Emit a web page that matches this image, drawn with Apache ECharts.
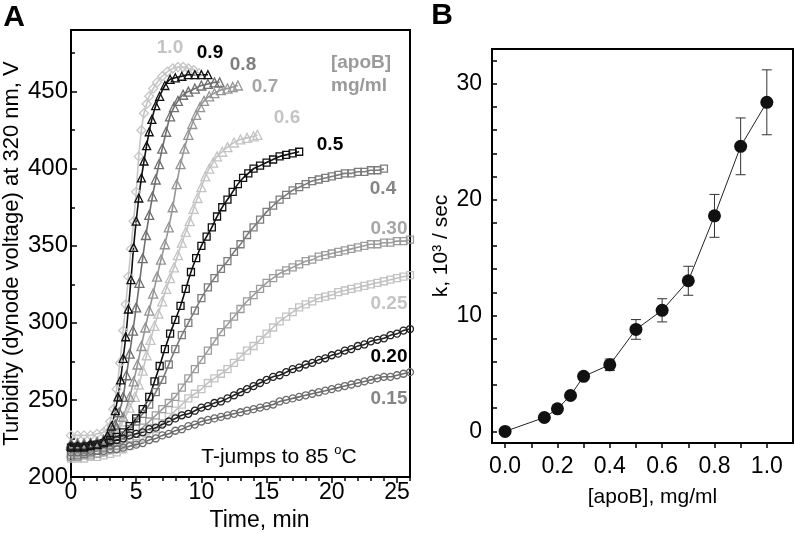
<!DOCTYPE html>
<html>
<head>
<meta charset="utf-8">
<script src="https://cdn.jsdelivr.net/npm/echarts@6/dist/echarts.min.js"></script>
<style>
  html, body { margin: 0; padding: 0; background: #fff; }
  #chart { width: 797px; height: 533px; }
</style>
</head>
<body>
<div id="chart"></div>
<script>
// ---- panel A: turbidity traces, time (min) / dynode voltage (V) ----
const t10 = [0,0.5,1,1.5,2,2.5,2.75,3,3.25,3.5,3.75,4,4.2,4.4,4.6,4.8,5,5.2,5.4,5.6,5.8,6,6.3,6.6,7,7.4,7.8,8.2,8.6,9,9.4,9.8]
const v10 = [227,227,227,227,228,229,231,236,244,257,274,295,312,330,348,366,385,408,425,436,442,447,452,456,460,463,465,466,466,465,464,462]
const t09 = [0,0.5,1,1.5,2,2.5,2.8,3.1,3.4,3.6,3.8,4.0,4.2,4.4,4.6,4.8,5.0,5.2,5.4,5.6,5.8,6.0,6.2,6.5,6.8,7.2,7.6,8.0,8.5,9.0,9.5,10.0,10.5]
const v09 = [220,220,220,221,221,223,227,233,243,252,263,277,291,309,328,349,366,381,394,405,415,424,432,441,447,454,458,459,460,461,461,461,461]
const t08 = [0,0.5,1,1.5,2,2.5,2.8,3.1,3.4,3.7,4.0,4.25,4.5,4.75,5.0,5.25,5.5,5.75,6.0,6.25,6.5,6.75,7.0,7.3,7.6,7.9,8.2,8.6,9.0,9.5,10.0,10.5,11.0,11.4]
const v08 = [221,221,221,222,222,224,226,229,234,242,252,266,280,295,310,326,342,357,370,382,393,403,413,424,434,440,444,448,450,452,454,455,456,456]
const t07 = [0,0.5,1,1.5,2,2.5,3,3.5,4,4.5,4.8,5.1,5.4,5.7,6.0,6.3,6.6,6.9,7.2,7.5,7.8,8.1,8.4,8.7,9.0,9.3,9.6,9.9,10.2,10.6,11.0,11.5,12.0,12.4,12.8]
const v07 = [222,222,222,222,223,224,226,231,239,252,262,273,285,297,308,319,330,341,351,362,375,390,403,413,422,429,435,440,444,447,449,451,452,453,454]
const t06 = [0,0.5,1,1.5,2,2.5,3,3.5,4,4.5,4.9,5.2,5.5,5.8,6.1,6.4,6.7,7.0,7.3,7.6,7.9,8.2,8.5,8.8,9.1,9.4,9.7,10.0,10.3,10.6,10.9,11.2,11.6,12.0,12.5,13.0,13.5,14.0,14.3]
const v06 = [216,216,217,217,218,220,223,228,236,245,252,260,269,279,289,298,306,314,322,329,336,344,352,359,366,374,381,388,395,400,404,408,411,414,417,419,420,421,422]
const t05 = [0,0.5,1,1.5,2,2.5,3,3.5,4,4.5,5,5.5,6,6.4,6.8,7.2,7.6,8.0,8.4,8.8,9.2,9.6,10.0,10.4,10.8,11.2,11.6,12.0,12.4,12.8,13.2,13.6,14.0,14.5,15.0,15.5,16.0,16.5,17.0,17.5]
const v05 = [219,219,219,220,221,222,224,226,229,233,238,244,252,262,272,283,293,302,311,322,333,342,350,356,362,369,375,380,385,390,394,397,400,402,404,406,408,409,410,411]
// slow traces share one sampling grid
const tSlow = [0,0.5,1,1.5,2,2.5,3,3.5,4,4.5,5,5.5,6,6.5,7,7.5,8,8.5,9,9.5,10,10.5,11,11.5,12,12.5,13,13.5,14,14.5,15,15.5,16,16.5,17,17.5,18,18.5,19,19.5,20,20.5,21,21.5,22,22.5,23,23.5,24,24.5,25,25.5,26]
const v04 = [214,214,215,216,217,219,221,224,227,231,236,241,247,255,263,273,283,292,300,308,316,323,329,335,340,346,351,357,362,367,372,376,380,383,386,388,390,392,393,394,395,396,397,397,398,398,399,399,400]
const v030 = [213,213,214,214,215,216,218,220,222,225,228,232,236,240,244,248,252,258,264,270,276,282,288,294,299,304,309,314,318,322,326,329,332,334,336,338,340,341,343,344,345,346,347,348,349,350,351,351,352,352,353,353,354]
const v025 = [212,212,212,213,213,214,215,216,218,220,222,225,228,231,235,239,243,247,251,254,257,261,264,267,270,274,278,282,285,289,293,297,301,304,307,310,312,314,316,317,318,320,321,322,323,324,325,326,327,328,329,330,331]
const v020 = [220,220,220,221,221,222,223,224,225,227,228,229,231,232,234,236,238,240,241,243,245,246,248,249,251,253,255,257,259,261,263,265,266,268,270,271,273,274,276,277,279,280,282,283,285,286,288,289,290,292,293,295,296]
const v015 = [216,216,216,217,217,217,218,218,219,220,221,222,224,225,227,228,230,231,233,234,236,237,238,239,240,241,242,243,244,245,246,247,249,250,251,252,253,254,255,256,257,258,259,260,261,262,263,264,265,265,266,267,268]

const tickAx = [0, 5, 10, 15, 20, 25]
const minorAx = [0,1,2,3,4,5,6,7,8,9,10,11,12,13,14,15,16,17,18,19,20,21,22,23,24,25,26]
const tickAy = [200, 250, 300, 350, 400, 450]
const minorAy = [225, 275, 325, 375, 425, 475]

// ---- panel B: rate constant vs apoB concentration ----
const apoB = [0, 0.15, 0.2, 0.25, 0.3, 0.4, 0.5, 0.6, 0.7, 0.8, 0.9, 1.0]
const kRate = [0, 1.2, 1.95, 3.1, 4.75, 5.75, 8.8, 10.45, 13.0, 18.6, 24.6, 28.4]
const kErr = [0, 0, 0, 0, 0, 0.5, 0.85, 1.0, 1.25, 1.85, 2.45, 2.8]
const tickBx = [0, 0.1, 0.2, 0.3, 0.4, 0.5, 0.6, 0.7, 0.8, 0.9, 1.0]
const labelBx = [0, 0.2, 0.4, 0.6, 0.8, 1.0]
const tickBy = [0,2,4,6,8,10,12,14,16,18,20,22,24,26,28,30,32]
const labelBy = [0, 10, 20, 30]

const FONT = 'Liberation Sans, Arial, sans-serif'

const curves = [
  { t: t10, v: v10, color: '#c6c6c6', symbol: 'diamond', size: 9 },
  { t: t06, v: v06, color: '#c4c4c4', symbol: 'triangle', size: 9 },
  { t: tSlow, v: v025, color: '#c2c2c2', symbol: 'rect', size: 7 },
  { t: t07, v: v07, color: '#959595', symbol: 'triangle', size: 9 },
  { t: tSlow, v: v030, color: '#9c9c9c', symbol: 'rect', size: 7 },
  { t: t08, v: v08, color: '#6f6f6f', symbol: 'triangle', size: 9 },
  { t: tSlow.slice(0, v04.length), v: v04, color: '#7c7c7c', symbol: 'rect', size: 7 },
  { t: tSlow, v: v015, color: '#6c6c6c', symbol: 'circle', size: 7 },
  { t: t09, v: v09, color: '#111', symbol: 'triangle', size: 8 },
  { t: t05, v: v05, color: '#111', symbol: 'rect', size: 7 },
  { t: tSlow, v: v020, color: '#222', symbol: 'circle', size: 7 }
]

const curveLabels = [
  ['1.0', 170, 48, '#c4c4c4'], ['0.9', 210, 53, '#000'], ['0.8', 243, 65, '#808080'],
  ['0.7', 265, 87, '#a6a6a6'], ['0.6', 287, 118, '#c4c4c4'], ['0.5', 330, 145, '#000'],
  ['0.4', 383, 189, '#858585'], ['0.30', 389, 229, '#a6a6a6'], ['0.25', 389, 304, '#c4c4c4'],
  ['0.20', 389, 357, '#000'], ['0.15', 389, 399, '#858585'],
  ['[apoB]', 361, 63, '#9a9a9a'], ['mg/ml', 359, 86, '#9a9a9a']
]

const chart = echarts.init(document.getElementById('chart'))

const tickStyle = { color: '#000', width: 1.5 }
const axisLineStyle = { color: '#000', width: 2 }

const option = {
  animation: false,
  textStyle: { fontFamily: FONT },
  grid: [
    { left: 71, top: 30, right: 387, bottom: 56, show: true, borderColor: '#000', borderWidth: 2, outerBoundsMode: 'none' },
    { left: 492, top: 49, right: 4, bottom: 90, show: true, borderColor: '#000', borderWidth: 2, outerBoundsMode: 'none' }
  ],
  xAxis: [
    {
      gridIndex: 0, type: 'value', position: 'bottom', min: 0, max: 26,
      splitLine: { show: false },
      axisLine: { onZero: false, lineStyle: axisLineStyle },
      axisTick: { customValues: tickAx, length: 6, lineStyle: tickStyle },
      axisLabel: { customValues: tickAx, fontSize: 23, color: '#000', margin: 4, fontFamily: FONT },
      name: 'Time, min', nameLocation: 'middle', nameGap: 27,
      nameTextStyle: { fontSize: 23, color: '#000', fontFamily: FONT, padding: [0, 0, 0, 38] }
    },
    {
      gridIndex: 0, type: 'value', position: 'bottom', min: 0, max: 26,
      splitLine: { show: false }, axisLine: { show: false, onZero: false },
      axisTick: { customValues: minorAx, length: 4, lineStyle: tickStyle },
      axisLabel: { show: false }
    },
    {
      gridIndex: 1, type: 'value', position: 'bottom', min: -0.05, max: 1.1,
      splitLine: { show: false },
      axisLine: { onZero: false, lineStyle: axisLineStyle },
      axisTick: { customValues: tickBx, length: 5, lineStyle: tickStyle },
      axisLabel: { customValues: labelBx, fontSize: 23, color: '#000', margin: 12, fontFamily: FONT,
        formatter: v => v.toFixed(1) },
      name: '[apoB], mg/ml', nameLocation: 'middle', nameGap: 44,
      nameTextStyle: { fontSize: 21, color: '#000', fontFamily: FONT, padding: [0, 0, 0, 20] }
    }
  ],
  yAxis: [
    {
      gridIndex: 0, type: 'value', position: 'left', min: 200, max: 490,
      splitLine: { show: false },
      axisLine: { onZero: false, lineStyle: axisLineStyle },
      axisTick: { customValues: tickAy, inside: true, length: 6, lineStyle: tickStyle },
      axisLabel: { customValues: tickAy, fontSize: 24, color: '#000', margin: 3, fontFamily: FONT },
      name: 'Turbidity (dynode voltage) at 320 nm, V', nameLocation: 'middle', nameGap: 48,
      nameTextStyle: { fontSize: 22, color: '#000', fontFamily: FONT }
    },
    {
      gridIndex: 0, type: 'value', position: 'left', min: 200, max: 490,
      splitLine: { show: false }, axisLine: { show: false, onZero: false },
      axisTick: { customValues: minorAy, inside: true, length: 4, lineStyle: tickStyle },
      axisLabel: { show: false }
    },
    {
      gridIndex: 1, type: 'value', position: 'left', min: -1, max: 33,
      splitLine: { show: false },
      axisLine: { onZero: false, lineStyle: axisLineStyle },
      axisTick: { customValues: tickBy, inside: true, length: 5, lineStyle: tickStyle },
      axisLabel: { customValues: labelBy, fontSize: 23, color: '#000', margin: 10, fontFamily: FONT },
      name: 'k, 10³ / sec', nameLocation: 'middle', nameGap: 40,
      nameTextStyle: { fontSize: 21, color: '#000', fontFamily: FONT }
    }
  ],
  series: curves.map(c => ({
    type: 'line', xAxisIndex: 0, yAxisIndex: 0,
    data: c.t.map((x, i) => [x, c.v[i]]),
    smooth: 0.4, showSymbol: true, showAllSymbol: true,
    symbol: c.symbol, symbolSize: c.size,
    itemStyle: { color: 'rgba(255,255,255,0)', borderColor: c.color, borderWidth: 1.3 },
    lineStyle: { color: c.color, width: 1.6 },
    silent: true
  })).concat([
    {
      type: 'custom', xAxisIndex: 2, yAxisIndex: 2, silent: true, z: 3,
      data: apoB.map((c, i) => [c, kRate[i] - kErr[i], kRate[i] + kErr[i]]).filter(d => d[2] > d[1]),
      encode: { x: 0, y: [1, 2] },
      renderItem: (params, api) => {
        const top = api.coord([api.value(0), api.value(2)])
        const bot = api.coord([api.value(0), api.value(1)])
        const w = 5
        const st = { stroke: '#333', lineWidth: 1 }
        return {
          type: 'group',
          children: [
            { type: 'line', shape: { x1: top[0], y1: top[1], x2: bot[0], y2: bot[1] }, style: st },
            { type: 'line', shape: { x1: top[0] - w, y1: top[1], x2: top[0] + w, y2: top[1] }, style: st },
            { type: 'line', shape: { x1: bot[0] - w, y1: bot[1], x2: bot[0] + w, y2: bot[1] }, style: st }
          ]
        }
      }
    },
    {
      type: 'line', xAxisIndex: 2, yAxisIndex: 2, silent: true, z: 4,
      data: apoB.map((c, i) => [c, kRate[i]]),
      symbol: 'circle', symbolSize: 13,
      itemStyle: { color: '#111' },
      lineStyle: { color: '#222', width: 1 }
    }
  ]),
  graphic: [
    { type: 'text', x: 14, y: 18, style: { text: 'A', font: 'bold 30px ' + FONT, fill: '#000', align: 'center', verticalAlign: 'middle' } },
    { type: 'text', x: 442, y: 16, style: { text: 'B', font: 'bold 30px ' + FONT, fill: '#000', align: 'center', verticalAlign: 'middle' } },
    {
      type: 'text', x: 279, y: 456,
      style: {
        text: '{m|T-jumps to 85 }{sup|o}{m|C}', align: 'center', verticalAlign: 'middle',
        rich: {
          m: { fontSize: 21, fontFamily: FONT, fill: '#000', verticalAlign: 'bottom', lineHeight: 24 },
          sup: { fontSize: 13, fontFamily: FONT, fill: '#000', verticalAlign: 'top', lineHeight: 13 }
        }
      }
    }
  ].concat(curveLabels.map(l => ({
    type: 'text', x: l[1], y: l[2],
    style: { text: l[0], font: 'bold 19px ' + FONT, fill: l[3], align: 'center', verticalAlign: 'middle' }
  })))
}

chart.setOption(option)
</script>
</body>
</html>
